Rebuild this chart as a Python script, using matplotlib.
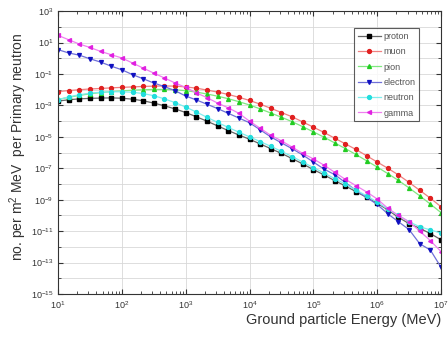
import numpy as np
import matplotlib
matplotlib.use("Agg")
import matplotlib.pyplot as plt
from matplotlib.ticker import LogLocator, NullFormatter

plt.rcParams['font.family'] = ['Liberation Sans', 'DejaVu Sans']
plt.rcParams['mathtext.default'] = 'regular'

# energies (MeV), 6 points per decade
energy = [1.00e1, 1.47e1, 2.15e1, 3.16e1, 4.64e1, 6.81e1,
          1.00e2, 1.47e2, 2.15e2, 3.16e2, 4.64e2, 6.81e2,
          1.00e3, 1.47e3, 2.15e3, 3.16e3, 4.64e3, 6.81e3,
          1.00e4, 1.47e4, 2.15e4, 3.16e4, 4.64e4, 6.81e4,
          1.00e5, 1.47e5, 2.15e5, 3.16e5, 4.64e5, 6.81e5,
          1.00e6, 1.47e6, 2.15e6, 3.16e6, 4.64e6, 6.81e6,
          1.00e7]

# read values, as log10 of the flux
proton = [-2.72, -2.64, -2.58, -2.55, -2.53, -2.52, -2.54, -2.60, -2.70, -2.85, -3.02, -3.22,
          -3.45, -3.72, -4.00, -4.30, -4.60, -4.88, -5.15, -5.45, -5.75, -6.05, -6.38, -6.72,
          -7.08, -7.42, -7.78, -8.12, -8.48, -8.85, -9.22, -9.65, -10.12, -10.52, -10.82, -11.15,
          -11.55]
muon = [-2.12, -2.05, -2.00, -1.95, -1.92, -1.88, -1.85, -1.82, -1.79, -1.77, -1.76, -1.77,
        -1.82, -1.90, -2.02, -2.15, -2.30, -2.48, -2.68, -2.92, -3.18, -3.45, -3.72, -4.05,
        -4.38, -4.72, -5.08, -5.44, -5.80, -6.20, -6.60, -7.00, -7.42, -7.90, -8.40, -8.90,
        -9.45]
pion = [-2.62, -2.48, -2.36, -2.26, -2.18, -2.12, -2.07, -2.03, -2.00, -1.98, -1.98, -2.00,
        -2.06, -2.15, -2.27, -2.41, -2.57, -2.76, -2.97, -3.22, -3.48, -3.75, -4.03, -4.35,
        -4.68, -5.02, -5.38, -5.74, -6.12, -6.52, -6.92, -7.34, -7.77, -8.25, -8.75, -9.28,
        -9.82]
electron = [0.55, 0.34, 0.20, -0.03, -0.24, -0.50, -0.73, -1.04, -1.30, -1.57, -1.80, -2.06,
            -2.40, -2.65, -2.92, -3.20, -3.50, -3.80, -4.10, -4.55, -5.00, -5.38, -5.75, -6.15,
            -6.60, -7.05, -7.40, -7.90, -8.40, -8.85, -9.30, -9.90, -10.40, -10.90, -11.80, -12.20,
            -13.30]
neutron = [-2.64, -2.45, -2.32, -2.22, -2.16, -2.13, -2.13, -2.16, -2.24, -2.38, -2.58, -2.82,
           -3.10, -3.42, -3.75, -4.08, -4.40, -4.70, -5.00, -5.30, -5.60, -5.92, -6.25, -6.60,
           -6.95, -7.30, -7.65, -8.00, -8.38, -8.75, -9.15, -9.60, -10.00, -10.40, -10.72, -10.92,
           -11.12]
gamma = [1.46, 1.18, 0.91, 0.69, 0.44, 0.23, 0.02, -0.30, -0.62, -0.94, -1.25, -1.57,
         -1.85, -2.20, -2.50, -2.85, -3.15, -3.50, -4.00, -4.45, -4.90, -5.25, -5.65, -6.05,
         -6.40, -6.80, -7.25, -7.70, -8.10, -8.50, -8.95, -9.55, -10.00, -10.40, -11.00, -11.60,
         -12.30]

names = ['proton', 'muon', 'pion', 'electron', 'neutron', 'gamma']
series = [proton, muon, pion, electron, neutron, gamma]
markers = ['s', 'o', '^', 'v', 'o', '<']
mcolors = ['#000000', '#e02020', '#22cc22', '#1010c0', '#22dddd', '#e020e0']
lcolors = ['#666666', '#f08080', '#80e880', '#7070d8', '#80eeee', '#f080f0']

fig = plt.figure(figsize=(4.48, 3.38), dpi=100)
ax = fig.add_axes([0.1295, 0.130, 0.855, 0.837])

for name, s, m, mc, lc in zip(names, series, markers, mcolors, lcolors):
    ax.plot(energy, np.power(10.0, s), color=lc, lw=0.9, marker=m, ms=2.8,
            mfc=mc, mec=mc, label=name)

ax.set_xscale('log')
ax.set_yscale('log')
ax.set_xlim(1e1, 1e7)
ax.set_ylim(1e-15, 1e3)

ax.set_yticks([10.0 ** e for e in range(3, -16, -2)])
ax.yaxis.set_minor_locator(LogLocator(base=10, subs=(1.0,), numticks=40))
ax.yaxis.set_minor_formatter(NullFormatter())
ax.xaxis.set_major_locator(LogLocator(base=10, numticks=20))
ax.xaxis.set_minor_locator(LogLocator(base=10, subs=np.arange(2, 10), numticks=20))
ax.xaxis.set_minor_formatter(NullFormatter())

ax.grid(True, which='major', color='#d8d8d8', lw=0.6)
ax.grid(True, which='minor', axis='y', color='#d8d8d8', lw=0.6)
ax.set_axisbelow(True)

ax.tick_params(which='both', direction='in', top=True, right=True, labelsize=6.5, colors='#333333')
ax.tick_params(which='major', length=3.5)
ax.tick_params(which='minor', length=2)
for sp in ax.spines.values():
    sp.set_color('#333333')
    sp.set_linewidth(0.8)

ax.set_xlabel('Ground particle Energy (MeV)', fontsize=10.5, color='#333333', loc='right', labelpad=2)
ax.set_ylabel('no. per m$^2$ MeV  per Primary neutron', fontsize=10, color='#333333')
ax.yaxis.set_label_coords(-0.075, 0.52)

leg = ax.legend(loc='upper right', bbox_to_anchor=(0.955, 0.955), fontsize=6.5, frameon=True,
                fancybox=False, edgecolor='#333333', handlelength=2.6, borderpad=0.4,
                labelspacing=0.7, handletextpad=0.3, labelcolor='#555555')
leg.get_frame().set_linewidth(0.8)

fig.savefig('out.png', dpi=100)
